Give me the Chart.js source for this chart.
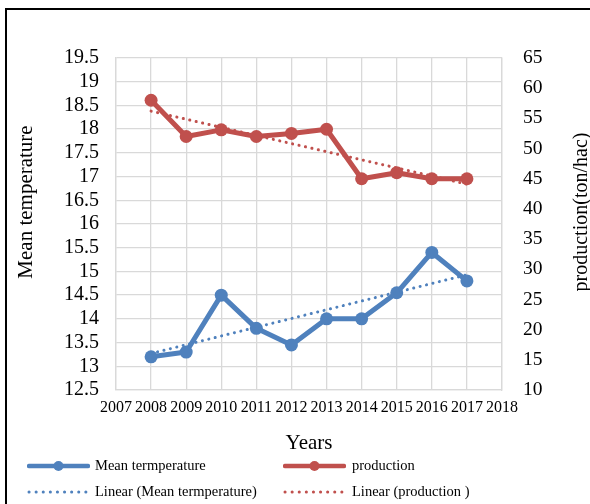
<!DOCTYPE html>
<html><head><meta charset="utf-8">
<script src="https://cdn.jsdelivr.net/npm/chart.js@4"></script>
<style>
html,body{margin:0;padding:0;background:#fff;overflow:hidden;}
#wrap{position:relative;width:590px;height:504px;overflow:hidden;font-family:"Liberation Serif","Times New Roman",serif;background:#fff;}
#frame{position:absolute;left:5px;top:8px;width:700px;height:600px;border-left:2px solid #000;border-top:2px solid #000;}
canvas{position:absolute;left:0;top:0;}
.lgt{position:absolute;font-size:14.5px;line-height:16px;color:#000;white-space:nowrap;}
.sw{position:absolute;}
</style></head>
<body><div id="wrap"><div id="frame"></div><canvas id="c" width="590" height="504"></canvas><div id="legend"></div></div>
<script>
// ---- data ----
const years = [2008, 2009, 2010, 2011, 2012, 2013, 2014, 2015, 2016, 2017];
const meanTemperature = [13.2, 13.3, 14.5, 13.8, 13.45, 14.0, 14.0, 14.55, 15.4, 14.8];
const production = [58, 52, 53.1, 52, 52.5, 53.2, 45, 46, 45, 45];
const trendYears = [2008, 2017];
const tempTrend = [13.27, 14.93];
const prodTrend = [56.2, 44.1];
const xRange = [2007, 2018];
const leftRange = [12.5, 19.5];
const rightRange = [10, 65];
const labels = ['Mean termperature', 'production', 'Linear (Mean termperature)', 'Linear (production )'];
const axisTitleText = ['Years', 'Mean temperature', 'production(ton/hac)'];

const BLUE = '#4f81bd', RED = '#c0504d';
const FONT = '"Liberation Serif", "Times New Roman", serif';
const pts = (xs, ys) => xs.map((x, i) => ({x, y: ys[i]}));

const axisTitles = {
  id: 'axisTitles',
  afterDraw(chart) {
    const ctx = chart.ctx;
    ctx.save();
    ctx.fillStyle = '#000';
    ctx.textAlign = 'center';
    ctx.textBaseline = 'middle';
    [[26, 202, axisTitleText[1], 21], [582, 212, axisTitleText[2], 20]].forEach(([x, y, t, fs]) => {
      ctx.save(); ctx.font = fs + 'px ' + FONT; ctx.translate(x, y); ctx.rotate(-Math.PI / 2); ctx.fillText(t, 0, 0); ctx.restore();
    });
    ctx.restore();
  }
};

new Chart(document.getElementById('c'), {
  type: 'line',
  data: {
    datasets: [
      {label: labels[2], data: pts(trendYears, tempTrend), yAxisID: 'y', borderColor: BLUE, borderWidth: 3,
       borderDash: [0.1, 6.5], borderCapStyle: 'round', pointRadius: 0, fill: false},
      {label: labels[3], data: pts(trendYears, prodTrend), yAxisID: 'y1', borderColor: RED, borderWidth: 3,
       borderDash: [0.1, 6.5], borderCapStyle: 'round', pointRadius: 0, fill: false},
      {label: labels[0], data: pts(years, meanTemperature), yAxisID: 'y', borderColor: BLUE, backgroundColor: BLUE,
       borderWidth: 5, pointRadius: 6.5, pointBorderWidth: 0, borderJoinStyle: 'round', fill: false},
      {label: labels[1], data: pts(years, production), yAxisID: 'y1', borderColor: RED, backgroundColor: RED,
       borderWidth: 5, pointRadius: 6.5, pointBorderWidth: 0, borderJoinStyle: 'round', fill: false}
    ]
  },
  options: {
    responsive: false,
    animation: false,
    layout: {padding: {left: 0, right: 0, top: 58, bottom: 48}},
    plugins: {legend: {display: false}, tooltip: {enabled: false}},
    scales: {
      x: {
        type: 'linear', min: xRange[0], max: xRange[1],
        ticks: {stepSize: 1, padding: 8, color: '#000', font: {family: FONT, size: 16}, callback: v => String(v), maxRotation: 0, autoSkip: false},
        grid: {color: '#d9d9d9', lineWidth: 1.3, drawTicks: false},
        border: {display: true, color: '#d9d9d9', width: 1.3},
        title: {display: true, text: axisTitleText[0], color: '#000', font: {family: FONT, size: 21}, padding: {top: 0, bottom: 0}},
        afterFit: s => { s.height = 66; }
      },
      y: {
        position: 'left', min: leftRange[0], max: leftRange[1],
        ticks: {stepSize: 0.5, padding: 17, color: '#000', font: {family: FONT, size: 20}, autoSkip: false, callback: v => String(v)},
        grid: {color: '#d9d9d9', lineWidth: 1.3, drawTicks: false},
        border: {display: true, color: '#d9d9d9', width: 1.3},
        afterFit: s => { s.width = 116; }
      },
      y1: {
        position: 'right', min: rightRange[0], max: rightRange[1],
        ticks: {stepSize: 5, padding: 21, color: '#000', font: {family: FONT, size: 19.5}, autoSkip: false, callback: v => String(v)},
        grid: {display: false, drawTicks: false},
        border: {display: true, color: '#d9d9d9', width: 1.3},
        afterFit: s => { s.width = 88; }
      }
    }
  },
  plugins: [axisTitles]
});

// ---- HTML legend (two columns) ----
const lg = document.getElementById('legend');
const items = [
  {t: labels[0], c: BLUE, dotted: false, sx: 27, tx: 95, cy: 466},
  {t: labels[1], c: RED, dotted: false, sx: 283, tx: 352, cy: 466},
  {t: labels[2], c: BLUE, dotted: true, sx: 27, tx: 95, cy: 492},
  {t: labels[3], c: RED, dotted: true, sx: 283, tx: 352, cy: 492}
];
items.forEach(it => {
  const w = 63;
  const svg = it.dotted
    ? `<svg class="sw" style="left:${it.sx}px;top:${it.cy - 6}px" width="${w}" height="12"><line x1="2" y1="6" x2="${w - 2}" y2="6" stroke="${it.c}" stroke-width="3" stroke-linecap="round" stroke-dasharray="0.1 7"/></svg>`
    : `<svg class="sw" style="left:${it.sx}px;top:${it.cy - 6}px" width="${w}" height="12"><line x1="2" y1="6" x2="${w - 2}" y2="6" stroke="${it.c}" stroke-width="4.5" stroke-linecap="round"/><circle cx="${w / 2}" cy="6" r="5" fill="${it.c}"/></svg>`;
  lg.insertAdjacentHTML('beforeend', svg + `<div class="lgt" style="left:${it.tx}px;top:${it.cy - 9}px">${it.t}</div>`);
});
</script>
</body></html>
